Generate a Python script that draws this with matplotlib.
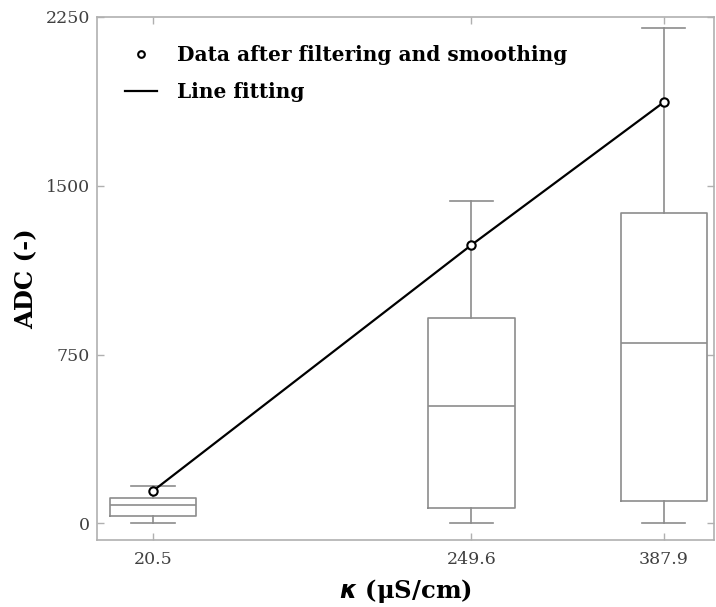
import matplotlib
matplotlib.use("Agg")
from matplotlib import pyplot as plt

plt.rcParams['font.family'] = ['DejaVu Serif']

# conductivity positions (uS/cm)
kappa = [20.5, 249.6, 387.9]
# box statistics
whislo = [0, 0, 0]
q1 = [32, 66, 100]
med = [82, 520, 802]
q3 = [111, 911, 1378]
whishi = [165, 1432, 2203]
# filtered / smoothed points
adc_pts = [144, 1237, 1871]

grey = '#8c8c8c'

stats = []
for i in range(len(kappa)):
    stats.append({'whislo': whislo[i], 'q1': q1[i], 'med': med[i],
                  'q3': q3[i], 'whishi': whishi[i], 'fliers': []})

fig = plt.figure(figsize=(7.16, 6.07), dpi=100)
ax = fig.add_axes([0.135, 0.11, 0.862, 0.862])

ax.bxp(stats, positions=kappa, widths=62, showfliers=False,
       boxprops=dict(color=grey, linewidth=1.2),
       medianprops=dict(color=grey, linewidth=1.2),
       whiskerprops=dict(color=grey, linewidth=1.2),
       capprops=dict(color=grey, linewidth=1.2))

ax.plot(kappa, adc_pts, color='black', linewidth=1.6, label='Line fitting', zorder=3)
ax.plot(kappa, adc_pts, 'o', markerfacecolor='white', markeredgecolor='black',
        markersize=6, markeredgewidth=1.5, linestyle='none',
        label='Data after filtering and smoothing', zorder=4)

ax.set_xlim(-20, 424)
ax.set_ylim(-75, 2250)
ax.set_xticks(kappa)
ax.set_xticklabels(['20.5', '249.6', '387.9'])
ax.set_yticks([0, 750, 1500, 2250])

for s in ax.spines.values():
    s.set_color('#b0b0b0')
    s.set_linewidth(1.2)
ax.tick_params(direction='in', top=True, right=True, length=5, width=1,
               color='#b0b0b0', labelcolor='#404040', labelsize=12.5)
ax.tick_params(axis='x', pad=8)
ax.tick_params(axis='y', pad=5)

ax.set_xlabel(r'$\boldsymbol{\kappa}$ (μS/cm)', fontsize=17.5, fontweight='bold',
              labelpad=6)
ax.set_ylabel('ADC (-)', fontsize=17.5, fontweight='bold', labelpad=5)

h, l = ax.get_legend_handles_labels()
ax.legend(h[::-1], l[::-1], loc='upper left', frameon=False,
          prop={'weight': 'bold', 'size': 14.5}, handlelength=1.6,
          handletextpad=1.0, labelspacing=0.85, markerscale=0.8,
          borderaxespad=1.0)

plt.savefig('out.png', dpi=100)
